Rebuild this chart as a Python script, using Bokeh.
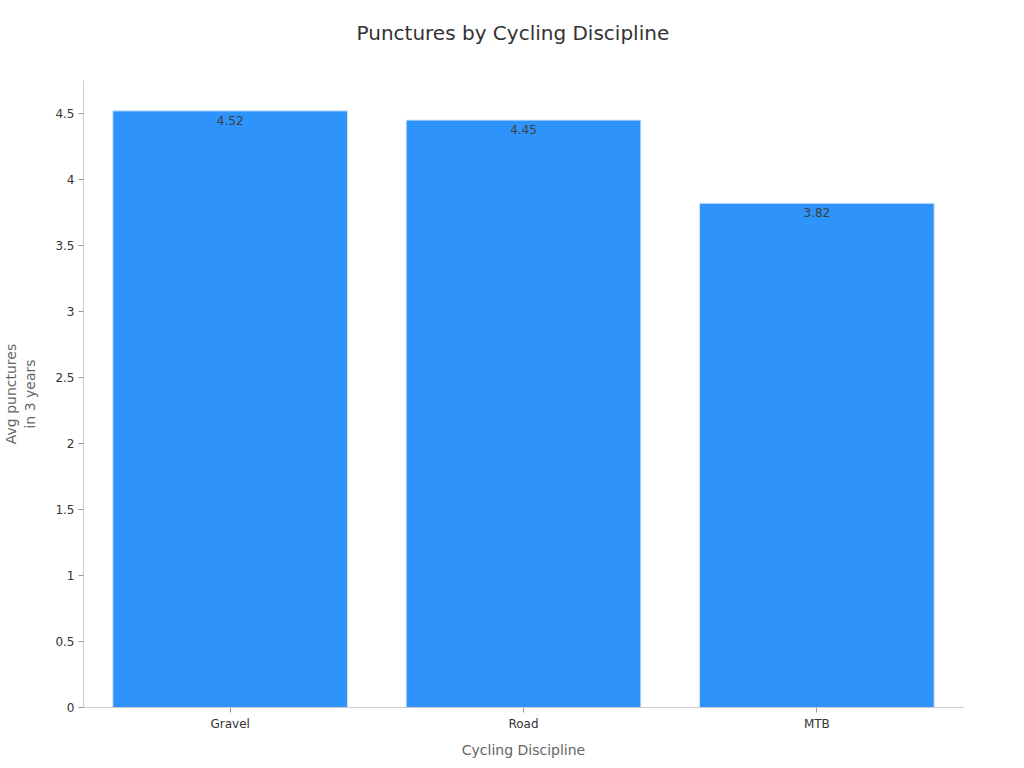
from bokeh.plotting import figure
from bokeh.models import ColumnDataSource, FixedTicker, Range1d, FactorRange, Title
from bokeh.embed import file_html
from bokeh.resources import INLINE
from bokeh.core.properties import value

categories = ["Gravel", "Road", "MTB"]
punctures = [4.52, 4.45, 3.82]
labels = ["4.52", "4.45", "3.82"]
y_ticks = [0, 0.5, 1, 1.5, 2, 2.5, 3, 3.5, 4, 4.5]
y_tick_labels = ["0", "0.5", "1", "1.5", "2", "2.5", "3", "3.5", "4", "4.5"]

FONT = "DejaVu Sans"

src = ColumnDataSource(dict(cat=categories, val=punctures, lab=labels))

p = figure(x_range=FactorRange(*categories, range_padding=0), y_range=Range1d(0, 4.75),
           width=1016, height=764, output_backend="svg", toolbar_location=None)
p.title = None
p.min_border_left = 83
p.min_border_right = 53
p.min_border_top = 80
p.min_border_bottom = 57
p.outline_line_color = None
p.background_fill_color = "white"
p.border_fill_color = "white"

spacer = Title(text=" ", text_font=FONT, text_font_size="16px", align="center")
p.add_layout(spacer, "above")
title = Title(text="Punctures by Cycling Discipline", text_font=FONT,
              text_font_size="20px", text_font_style="normal",
              text_color="#333333", align="left", offset=273)
p.add_layout(title, "above")

p.vbar(x="cat", top="val", width=0.8, source=src, fill_color="#2E93FA",
       line_color="#cde3fb", line_width=1)
p.text(x="cat", y="val", text="lab", source=src, text_align="center",
       text_baseline="top", y_offset=5, text_font=value(FONT),
       text_font_size="12px", text_color="#404040")

p.xgrid.visible = False
p.ygrid.visible = False

for ax in (p.xaxis[0], p.yaxis[0]):
    ax.axis_line_color = "#cccccc"
    ax.major_tick_line_color = "#999999"
    ax.minor_tick_line_color = None
    ax.major_tick_out = 5
    ax.major_tick_in = 0
    ax.major_label_text_font = FONT
    ax.major_label_text_font_size = "12px"
    ax.major_label_text_color = "#333333"
    ax.axis_label_text_font = FONT
    ax.axis_label_text_font_size = "14px"
    ax.axis_label_text_font_style = "normal"
    ax.axis_label_text_color = "#666666"

p.yaxis.ticker = FixedTicker(ticks=y_ticks)
p.yaxis.major_label_overrides = {t: l for t, l in zip(y_ticks, y_tick_labels)}
p.yaxis.axis_label = "Avg punctures\nin 3 years"
p.yaxis.axis_label_standoff = 14
p.yaxis.major_label_standoff = 4
p.xaxis.axis_label = "Cycling Discipline"
p.xaxis.axis_label_standoff = 8
p.xaxis.major_label_standoff = 4

open("out.html", "w").write(file_html(p, INLINE))
